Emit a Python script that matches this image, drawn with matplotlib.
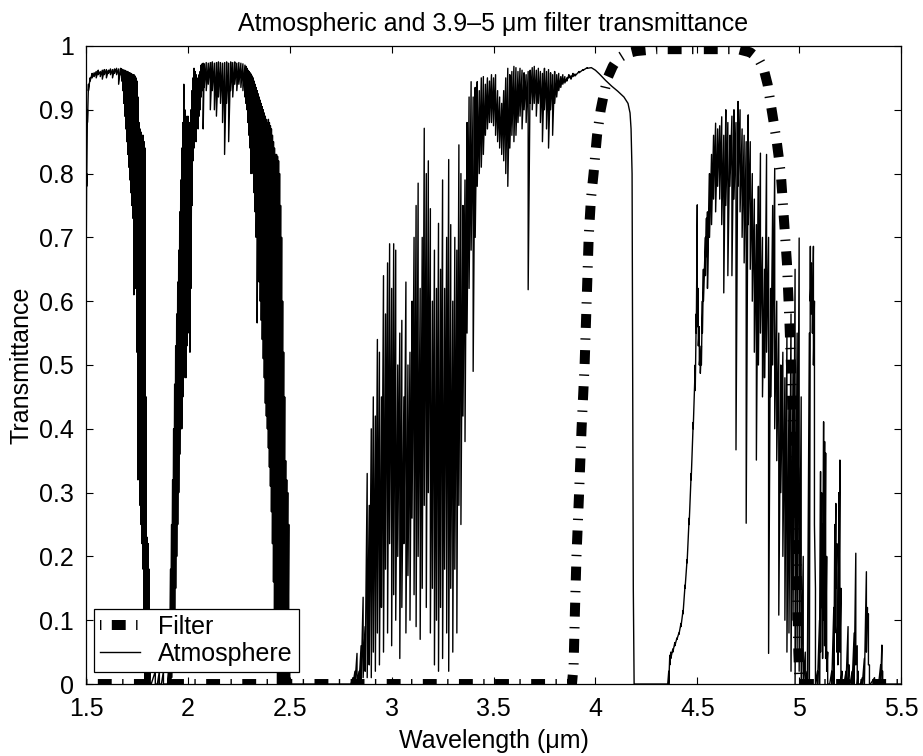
import numpy as np
import matplotlib.pyplot as plt
from matplotlib.ticker import FormatStrFormatter

plt.rcParams['font.family'] = 'Liberation Sans'
plt.rcParams['font.size'] = 18
plt.rcParams['xtick.direction'] = 'in'
plt.rcParams['ytick.direction'] = 'in'
plt.rcParams['xtick.top'] = True
plt.rcParams['ytick.right'] = True
plt.rcParams['xtick.major.size'] = 5
plt.rcParams['ytick.major.size'] = 5
plt.rcParams['axes.linewidth'] = 0.9
plt.rcParams['lines.scale_dashes'] = False

# filter transmittance
filter_wl = [1.5, 3.885, 3.893, 3.9, 3.907, 3.92, 3.932, 3.947, 3.957, 3.967,
             3.978, 3.991, 4.008, 4.026, 4.045, 4.06, 4.085, 4.11, 4.15, 4.2,
             4.3, 4.5, 4.7, 4.76, 4.8, 4.825, 4.845, 4.865, 4.89, 4.91,
             4.925, 4.94, 4.952, 4.962, 4.972, 4.982, 4.99, 4.996, 5.002, 5.5]
filter_t = [0, 0, 0.03, 0.12, 0.2, 0.3, 0.4, 0.5, 0.6, 0.7,
            0.76, 0.8, 0.86, 0.9, 0.93, 0.95, 0.968, 0.98, 0.988, 0.992,
            0.995, 0.995, 0.995, 0.99, 0.98, 0.965, 0.94, 0.9, 0.85, 0.8,
            0.73, 0.66, 0.57, 0.48, 0.38, 0.27, 0.15, 0.05, 0, 0]

# atmosphere: per wavelength column, the max and min of the spectrum
atm_wl = [
    1.5, 1.503, 1.507, 1.512, 1.52, 1.53, 1.54, 1.55, 1.56, 1.57, 1.58, 1.59,
    1.6, 1.61, 1.62, 1.63, 1.64, 1.65, 1.66, 1.67, 1.675, 1.68, 1.685, 1.69,
    1.695, 1.7, 1.705, 1.71, 1.715, 1.72, 1.725, 1.73, 1.735, 1.74, 1.745,
    1.75, 1.755, 1.76, 1.765, 1.77, 1.775, 1.78, 1.785, 1.79, 1.795, 1.8,
    1.805, 1.81, 1.815, 1.82, 1.84, 1.85, 1.86, 1.87, 1.88, 1.89, 1.9,
    # band 2
    1.905, 1.91, 1.915, 1.92, 1.925, 1.93, 1.935, 1.94, 1.945, 1.95, 1.955,
    1.96, 1.965, 1.97, 1.975, 1.98, 1.985, 1.99, 1.995, 2.0, 2.005, 2.01,
    2.015, 2.02, 2.025, 2.03, 2.035, 2.04, 2.045, 2.05, 2.055, 2.06, 2.065,
    2.07, 2.075, 2.08, 2.09, 2.1, 2.11, 2.12, 2.13, 2.14, 2.15, 2.16, 2.17,
    2.18, 2.19, 2.2, 2.21, 2.22, 2.23, 2.24, 2.25, 2.26, 2.27, 2.28, 2.285,
    2.29, 2.295, 2.3, 2.305, 2.31, 2.315, 2.32, 2.325, 2.33, 2.335, 2.34,
    2.345, 2.35, 2.355, 2.36, 2.365, 2.37, 2.375, 2.38, 2.385, 2.39, 2.395,
    2.4, 2.405, 2.41, 2.415, 2.42, 2.425, 2.43, 2.435, 2.44, 2.445, 2.45,
    2.455, 2.46, 2.465, 2.47, 2.475, 2.48, 2.485, 2.49, 2.495, 2.5, 2.505,
    2.51,
    # band 3
    2.8, 2.81, 2.82, 2.83, 2.84, 2.85, 2.86, 2.87, 2.88, 2.89, 2.9, 2.91,
    2.92, 2.93, 2.94, 2.95, 2.96, 2.97, 2.98, 2.99, 3.0, 3.01, 3.02, 3.03,
    3.04, 3.05, 3.06, 3.07, 3.08, 3.09, 3.1, 3.11, 3.12, 3.13, 3.14, 3.15,
    3.16, 3.17, 3.18, 3.19, 3.2, 3.21, 3.22, 3.23, 3.24, 3.25, 3.26, 3.27,
    3.28, 3.29, 3.3, 3.31, 3.32, 3.33, 3.34, 3.35, 3.36, 3.37, 3.38, 3.39,
    3.4, 3.41, 3.42, 3.43, 3.44, 3.45, 3.46, 3.47, 3.48, 3.49, 3.5, 3.51,
    3.52, 3.53, 3.54, 3.55, 3.56, 3.57, 3.58, 3.59, 3.6, 3.61, 3.62, 3.63,
    3.64, 3.65, 3.66, 3.67, 3.68, 3.69, 3.7, 3.71, 3.72, 3.73, 3.74, 3.75,
    3.76, 3.77, 3.78, 3.79, 3.8, 3.81, 3.82, 3.83, 3.84, 3.85, 3.86, 3.87,
    3.88, 3.89, 3.9, 3.92, 3.94, 3.96, 3.98, 4.0, 4.02, 4.05, 4.08, 4.11,
    4.14, 4.16, 4.17, 4.175, 4.18, 4.183, 4.186, 4.19,
    # band 4
    4.34, 4.355, 4.36, 4.365, 4.37, 4.38, 4.39, 4.4, 4.41, 4.42, 4.43, 4.44,
    4.45, 4.46, 4.47, 4.48, 4.49, 4.495, 4.5, 4.505, 4.51, 4.515, 4.52, 4.525,
    4.53, 4.54, 4.545, 4.55, 4.56, 4.57, 4.58, 4.59, 4.6, 4.61, 4.62, 4.63,
    4.64, 4.65, 4.66, 4.67, 4.68, 4.69, 4.7, 4.71, 4.72, 4.73, 4.74, 4.75,
    4.76, 4.77, 4.78, 4.79, 4.8, 4.81, 4.82, 4.83, 4.84, 4.85, 4.86, 4.87,
    4.88, 4.89, 4.9, 4.91, 4.92, 4.93, 4.94, 4.95, 4.96, 4.97, 4.98, 4.99,
    5.0, 5.01, 5.02, 5.03, 5.04, 5.05, 5.055, 5.06, 5.065, 5.07, 5.075, 5.08,
    5.09, 5.1, 5.105, 5.11, 5.115, 5.12, 5.125, 5.13, 5.135, 5.14, 5.15, 5.16,
    5.17, 5.175, 5.18, 5.185, 5.19, 5.195, 5.2, 5.205, 5.21, 5.22, 5.23, 5.24,
    5.245, 5.25, 5.26, 5.27, 5.278, 5.285, 5.29, 5.3, 5.31, 5.32, 5.33, 5.335,
    5.34, 5.345, 5.35, 5.37, 5.39, 5.4, 5.406, 5.41, 5.42, 5.5]

atm_hi = [
    0.63, 0.8, 0.9, 0.94, 0.95, 0.957, 0.958, 0.96, 0.962, 0.96, 0.962, 0.963,
    0.963, 0.962, 0.964, 0.963, 0.964, 0.965, 0.964, 0.965, 0.964, 0.963, 0.962, 0.962,
    0.961, 0.96, 0.96, 0.958, 0.958, 0.957, 0.956, 0.955, 0.955, 0.953, 0.95,
    0.945, 0.92, 0.88, 0.87, 0.865, 0.86, 0.86, 0.85, 0.84, 0.45, 0.23,
    0.22, 0.18, 0.05, 0.0, 0.02, 0.0, 0.02, 0.0, 0.02, 0.0, 0.0,
    # band 2
    0.02, 0.1, 0.18, 0.25, 0.32, 0.4, 0.47, 0.53, 0.58, 0.63, 0.68,
    0.74, 0.79, 0.84, 0.88, 0.94, 0.9, 0.89, 0.88, 0.89, 0.87, 0.88,
    0.9, 0.93, 0.95, 0.965, 0.96, 0.955, 0.94, 0.95, 0.955, 0.96, 0.97,
    0.972, 0.973, 0.972, 0.974, 0.973, 0.974, 0.975, 0.973, 0.974, 0.975, 0.974, 0.973,
    0.974, 0.975, 0.973, 0.975, 0.974, 0.975, 0.973, 0.974, 0.973, 0.972, 0.97, 0.968,
    0.965, 0.962, 0.96, 0.958, 0.956, 0.953, 0.95, 0.945, 0.94, 0.935, 0.93,
    0.925, 0.92, 0.915, 0.91, 0.905, 0.9, 0.895, 0.89, 0.885, 0.88, 0.885,
    0.88, 0.875, 0.87, 0.86, 0.85, 0.84, 0.83, 0.83, 0.827, 0.82, 0.8,
    0.75, 0.7, 0.6, 0.52, 0.45, 0.35, 0.32, 0.3, 0.25, 0.1, 0.0,
    0.0,
    # band 3
    0.0, 0.01, 0.02, 0.048, 0.02, 0.06, 0.136, 0.09, 0.33, 0.28, 0.4, 0.45,
    0.42, 0.54, 0.52, 0.45, 0.64, 0.58, 0.66, 0.69, 0.62, 0.69, 0.68, 0.5,
    0.55, 0.57, 0.45, 0.63, 0.5, 0.52, 0.6, 0.7, 0.75, 0.785, 0.62, 0.7,
    0.871, 0.8, 0.82, 0.745, 0.6, 0.68, 0.62, 0.722, 0.65, 0.79, 0.62, 0.7,
    0.822, 0.72, 0.6, 0.7, 0.68, 0.845, 0.8, 0.75, 0.79, 0.88, 0.92, 0.944,
    0.92, 0.935, 0.944, 0.93, 0.95, 0.952, 0.94, 0.95, 0.945, 0.955, 0.95, 0.955,
    0.93, 0.92, 0.91, 0.93, 0.95, 0.965, 0.955, 0.96, 0.968, 0.966, 0.96, 0.965,
    0.962, 0.958, 0.955, 0.96, 0.962, 0.966, 0.968, 0.962, 0.965, 0.96, 0.957, 0.965,
    0.96, 0.963, 0.958, 0.955, 0.96, 0.955, 0.957, 0.952, 0.955, 0.952, 0.95, 0.955,
    0.953, 0.957, 0.956, 0.96, 0.963, 0.966, 0.966, 0.962, 0.956, 0.946, 0.937, 0.929,
    0.92, 0.91, 0.895, 0.87, 0.8, 0.5, 0.15, 0.0,
    # band 4
    0.0, 0.0, 0.02, 0.045, 0.05, 0.055, 0.065, 0.072, 0.08, 0.095, 0.115, 0.155,
    0.195, 0.26, 0.33, 0.41, 0.5, 0.58, 0.751, 0.62, 0.56, 0.52, 0.53, 0.6,
    0.65, 0.7, 0.73, 0.74, 0.8, 0.83, 0.86, 0.879, 0.87, 0.875, 0.889, 0.86,
    0.9, 0.88, 0.86, 0.89, 0.9, 0.88, 0.913, 0.9, 0.87, 0.86, 0.85, 0.892,
    0.85, 0.8, 0.76, 0.72, 0.78, 0.832, 0.7, 0.65, 0.83, 0.7, 0.62, 0.75,
    0.808, 0.6, 0.55, 0.5, 0.52, 0.48, 0.55, 0.45, 0.58, 0.5, 0.65, 0.55,
    0.699, 0.45, 0.2, 0.05, 0.02, 0.55, 0.686, 0.66, 0.62, 0.686, 0.6, 0.15,
    0.02, 0.1, 0.333, 0.3, 0.25, 0.411, 0.38, 0.362, 0.2, 0.05, 0.0, 0.02,
    0.12, 0.25, 0.283, 0.22, 0.1, 0.3, 0.351, 0.15, 0.02, 0.0, 0.02, 0.09,
    0.03, 0.0, 0.02, 0.08, 0.205, 0.06, 0.02, 0.0, 0.01, 0.04, 0.176, 0.12,
    0.11, 0.03, 0.0, 0.01, 0.0, 0.03, 0.061, 0.02, 0.0, 0.0]

atm_lo = [
    0.62, 0.78, 0.88, 0.93, 0.945, 0.95, 0.952, 0.95, 0.955, 0.952, 0.948, 0.955,
    0.95, 0.957, 0.955, 0.95, 0.957, 0.955, 0.94, 0.955, 0.945, 0.93, 0.91, 0.89,
    0.87, 0.85, 0.83, 0.81, 0.79, 0.77, 0.75, 0.73, 0.61, 0.68, 0.62,
    0.52, 0.32, 0.42, 0.28, 0.25, 0.22, 0.18, 0.05, 0.0, 0.0, 0.0,
    0.0, 0.0, 0.0, 0.0, 0.0, 0.0, 0.0, 0.0, 0.0, 0.0, 0.0,
    # band 2
    0.0, 0.0, 0.0, 0.01, 0.03, 0.06, 0.1, 0.15, 0.2, 0.25, 0.3,
    0.36, 0.4, 0.4, 0.45, 0.48, 0.52, 0.48, 0.53, 0.55, 0.58, 0.52,
    0.62, 0.75, 0.82, 0.84, 0.86, 0.85, 0.88, 0.87, 0.89, 0.9, 0.92,
    0.93, 0.87, 0.935, 0.93, 0.94, 0.9, 0.93, 0.9, 0.89, 0.92, 0.91, 0.88,
    0.83, 0.91, 0.85, 0.93, 0.92, 0.94, 0.93, 0.94, 0.935, 0.93, 0.92, 0.91,
    0.9, 0.88, 0.86, 0.84, 0.8, 0.82, 0.8, 0.77, 0.74, 0.7, 0.566,
    0.66, 0.63, 0.6, 0.57, 0.54, 0.51, 0.48, 0.44, 0.42, 0.4, 0.37,
    0.34, 0.31, 0.27, 0.22, 0.16, 0.11, 0.06, 0.02, 0.0, 0.0, 0.0,
    0.0, 0.0, 0.0, 0.0, 0.0, 0.0, 0.0, 0.0, 0.0, 0.0, 0.0,
    0.0,
    # band 3
    0.0, 0.0, 0.0, 0.0, 0.0, 0.0, 0.01, 0.02, 0.01, 0.03, 0.01, 0.05,
    0.02, 0.08, 0.03, 0.12, 0.05, 0.18, 0.08, 0.22, 0.06, 0.14, 0.1, 0.2,
    0.04, 0.12, 0.22, 0.08, 0.17, 0.1, 0.26, 0.14, 0.09, 0.2, 0.07, 0.15,
    0.28, 0.12, 0.3, 0.08, 0.15, 0.03, 0.1, 0.02, 0.12, 0.04, 0.18, 0.08,
    0.02, 0.15, 0.05, 0.18, 0.08, 0.28, 0.25, 0.42, 0.38, 0.55, 0.62, 0.68,
    0.49, 0.7, 0.78, 0.8, 0.81, 0.83, 0.86, 0.87, 0.88, 0.88, 0.875, 0.86,
    0.85, 0.84, 0.83, 0.82, 0.8, 0.78, 0.84, 0.86, 0.85, 0.86, 0.88, 0.89,
    0.87, 0.9, 0.88, 0.618, 0.91, 0.9, 0.91, 0.89, 0.91, 0.88, 0.85, 0.9,
    0.87, 0.84, 0.9, 0.86, 0.91, 0.92, 0.93, 0.935, 0.94, 0.942, 0.945, 0.95,
    0.948, 0.952, 0.953, 0.958, 0.962, 0.965, 0.966, 0.962, 0.956, 0.946, 0.937, 0.929,
    0.92, 0.91, 0.895, 0.87, 0.8, 0.5, 0.15, 0.0,
    # band 4
    0.0, 0.0, 0.0, 0.03, 0.04, 0.05, 0.06, 0.07, 0.078, 0.09, 0.11, 0.15,
    0.19, 0.25, 0.32, 0.4, 0.46, 0.55, 0.56, 0.53, 0.5, 0.487, 0.5, 0.55,
    0.6, 0.64, 0.67, 0.62, 0.7, 0.72, 0.76, 0.74, 0.78, 0.76, 0.72, 0.613,
    0.75, 0.64, 0.78, 0.64, 0.76, 0.367, 0.78, 0.74, 0.7, 0.66, 0.252, 0.72,
    0.65, 0.6, 0.52, 0.351, 0.5, 0.55, 0.45, 0.48, 0.52, 0.048, 0.45, 0.5,
    0.4, 0.35, 0.108, 0.3, 0.2, 0.1, 0.05, 0.08, 0.02, 0.1, 0.0, 0.05,
    0.02, 0.0, 0.0, 0.0, 0.0, 0.0, 0.6, 0.58, 0.55, 0.5, 0.25, 0.0,
    0.0, 0.0, 0.05, 0.12, 0.04, 0.1, 0.06, 0.04, 0.02, 0.0, 0.0, 0.0,
    0.0, 0.08, 0.15, 0.05, 0.03, 0.1, 0.05, 0.0, 0.0, 0.0, 0.0, 0.0,
    0.0, 0.0, 0.0, 0.0, 0.03, 0.0, 0.0, 0.0, 0.0, 0.0, 0.05, 0.1,
    0.03, 0.0, 0.0, 0.0, 0.0, 0.0, 0.02, 0.0, 0.0, 0.0]

# trace each column max -> min so the dense lines fill in like the original
wl = np.repeat(atm_wl, 2)
trans = np.column_stack([atm_hi, atm_lo]).ravel()

fig = plt.figure(figsize=(9.23, 7.56), dpi=100)
ax = fig.add_axes([0.0932, 0.0952, 0.8830, 0.8440])

ax.plot(filter_wl, filter_t, color='k', lw=7.2,
        linestyle=(17.5, (10, 7.5, 1, 7.5)), label='Filter')
ax.plot(wl, trans, color='k', lw=1.0, label='Atmosphere')

ax.set_xlim(1.5, 5.5)
ax.set_ylim(0, 1)
ax.set_xticks(np.arange(1.5, 5.51, 0.5))
ax.set_yticks(np.arange(0, 1.01, 0.1))
ax.xaxis.set_major_formatter(FormatStrFormatter('%g'))
ax.yaxis.set_major_formatter(FormatStrFormatter('%g'))
ax.tick_params(axis='x', pad=9)
ax.tick_params(axis='y', pad=9)

ax.set_title('Atmospheric and 3.9\u20135 \u03bcm filter transmittance',
             fontsize=18, pad=11)
ax.set_xlabel('Wavelength (\u03bcm)', labelpad=6)
ax.set_ylabel('Transmittance', labelpad=4)

leg = ax.legend(loc='lower left', bbox_to_anchor=(0.01, 0.019), borderaxespad=0,
                fancybox=False, framealpha=1, edgecolor='k', handlelength=1.6,
                handletextpad=0.7, labelspacing=0.1, borderpad=0.25)
leg.get_frame().set_linewidth(0.9)
# legend sample: tick, block, tick as in the original key
leg.get_lines()[0].set_linestyle((17.5, (10, 7.5, 1, 7.5)))

plt.savefig('out.png', dpi=100)
